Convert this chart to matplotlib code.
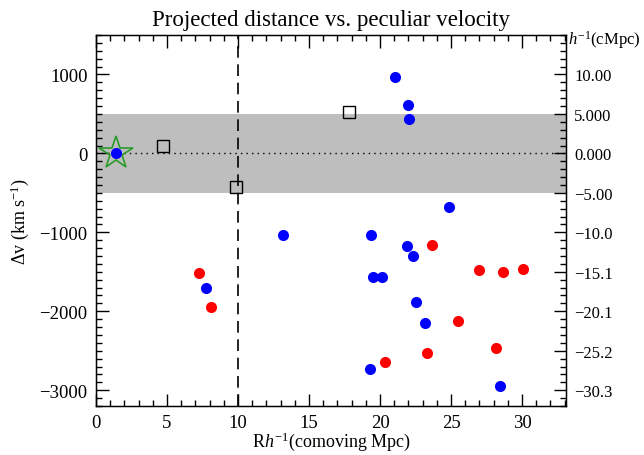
import matplotlib
matplotlib.use("Agg")
import matplotlib.pyplot as plt
from matplotlib.ticker import MultipleLocator, FixedLocator

plt.rcParams['font.family'] = ['Liberation Serif', 'DejaVu Serif']
plt.rcParams['mathtext.fontset'] = 'custom'
plt.rcParams['mathtext.rm'] = 'Liberation Serif'
plt.rcParams['mathtext.it'] = 'Liberation Serif:italic'

# projected separation (h^-1 comoving Mpc) and velocity offset (km/s)
blue_r = [1.41, 21.06, 21.97, 22.02, 24.85, 13.2, 7.72, 19.34, 21.88, 22.30,
          19.53, 20.12, 22.54, 23.15, 19.30, 28.45]
blue_dv = [0, 971, 616, 430, -673, -1034, -1700, -1034, -1168, -1304,
           -1570, -1570, -1882, -2148, -2726, -2949]
red_r = [7.25, 8.08, 23.69, 26.99, 28.64, 30.09, 25.47, 28.15, 23.33, 20.35]
red_dv = [-1519, -1949, -1156, -1481, -1498, -1464, -2127, -2464, -2532, -2637]
square_r = [4.74, 9.86, 17.84]
square_dv = [92, -421, 528]
star_r = [1.41]
star_dv = [0]

band_dv = [-500, 500]
r_cut = 10

right_tick_dv = [1000, 500, 0, -500, -1000, -1500, -2000, -2500, -3000]
right_tick_labels = ["10.00", "5.000", "0.000", "\u22125.00", "\u221210.0",
                     "\u221215.1", "\u221220.1", "\u221225.2", "\u221230.3"]

fig = plt.figure(figsize=(6.44, 4.56), dpi=100)
ax = fig.add_axes([0.149, 0.1075, 0.73, 0.8135])
ax.set_xlim(0, 33.1)
ax.set_ylim(-3200, 1500)

ax.axhspan(band_dv[0], band_dv[1], color='#bebebe', lw=0, zorder=0)
ax.axhline(0, color='black', ls=(0, (1, 3)), lw=1.0, zorder=1)
ax.axvline(r_cut, color='black', ls=(0, (7, 4)), lw=1.2, zorder=1)

ax.plot(star_r, star_dv, marker='*', ms=25, mfc='none', mec='#2a9a2a',
        mew=1.2, ls='none', zorder=3)
ax.plot(blue_r, blue_dv, 'o', color='#0000ff', ms=8, mew=0, zorder=4)
ax.plot(red_r, red_dv, 'o', color='#ff0000', ms=8, mew=0, zorder=4)
ax.plot(square_r, square_dv, 's', mfc='none', mec='black', ms=8.5, mew=1.0,
        ls='none', zorder=4)

ax.xaxis.set_major_locator(MultipleLocator(5))
ax.xaxis.set_minor_locator(MultipleLocator(1))
ax.yaxis.set_major_locator(MultipleLocator(1000))
ax.yaxis.set_minor_locator(MultipleLocator(100))
ax.tick_params(which='both', direction='in', top=True, right=False,
               labelsize=13.5, width=1.0)
ax.tick_params(which='major', length=9)
ax.tick_params(which='minor', length=4.5)
ax.tick_params(axis='x', pad=6)
ax.tick_params(axis='y', pad=6)
for s in ax.spines.values():
    s.set_linewidth(1.0)

ax2 = ax.twinx()
ax2.set_ylim(ax.get_ylim())
ax2.yaxis.set_major_locator(FixedLocator(right_tick_dv))
ax2.set_yticklabels(right_tick_labels)
ax2.yaxis.set_minor_locator(MultipleLocator(100))
ax2.tick_params(which='both', direction='in', labelsize=12, width=1.0)
ax2.tick_params(which='major', length=9, pad=6)
ax2.tick_params(which='minor', length=4.5)

ax.set_title("Projected distance vs. peculiar velocity", fontsize=16.5, pad=7)
ax.set_xlabel(r"R$\mathit{h}^{-1}$(comoving Mpc)", fontsize=13, labelpad=-1)
ax.set_ylabel(r"$\Delta$v (km s$^{-1}$)", fontsize=13, labelpad=6)
ax.text(1.005, 0.99, r"$\mathit{h}^{-1}$(cMpc)", transform=ax.transAxes,
        fontsize=12, ha='left', va='center')

fig.savefig("out.png", dpi=100)
